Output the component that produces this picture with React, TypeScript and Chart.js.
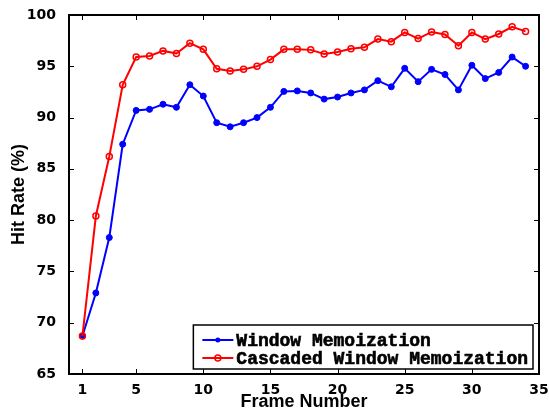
import React, { useEffect, useRef } from "react";
import { Chart, registerables } from "chart.js";

Chart.register(...registerables);

const frames = [1,2,3,4,5,6,7,8,9,10,11,12,13,14,15,16,17,18,19,20,21,22,23,24,25,26,27,28,29,30,31,32,33,34];
const windowMemo = [68.7,72.9,78.3,87.4,90.7,90.8,91.3,91.0,93.2,92.1,89.5,89.1,89.5,90.0,91.0,92.55,92.6,92.4,91.8,92.0,92.4,92.7,93.6,93.0,94.8,93.5,94.7,94.2,92.7,95.1,93.8,94.4,95.9,95.0];
const cascadedMemo = [68.7,80.4,86.2,93.2,95.9,96.0,96.5,96.25,97.25,96.65,94.75,94.55,94.7,95.0,95.65,96.65,96.65,96.6,96.2,96.4,96.7,96.85,97.65,97.4,98.3,97.7,98.35,98.1,97.0,98.3,97.65,98.15,98.85,98.4];
const seriesLabels = ["Window Memoization", "Cascaded Window Memoization"];
const xTickValues = [1, 5, 10, 15, 20, 25, 30, 35];
const xTitle = "Frame Number";
const yTitle = "Hit Rate (%)";

const TICK_FONT = { family: "'DejaVu Sans', sans-serif", size: 14, weight: "bold" as const };
const TITLE_FONT = { family: "'Liberation Sans', Arial, sans-serif", size: 18, weight: "bold" as const, lineHeight: 1 };

const framePlugin = {
  id: "frameTicks",
  beforeDatasetsDraw(chart: any) {
    const { ctx, chartArea: a, scales } = chart;
    ctx.save();
    ctx.strokeStyle = "#000";
    ctx.lineWidth = 1;
    const L = 5;
    ctx.beginPath();
    scales.x.ticks.forEach((t: any) => {
      const px = Math.round(scales.x.getPixelForValue(t.value)) + 0.5;
      ctx.moveTo(px, a.bottom);
      ctx.lineTo(px, a.bottom - L);
      ctx.moveTo(px, a.top);
      ctx.lineTo(px, a.top + L);
    });
    scales.y.ticks.forEach((t: any) => {
      const py = Math.round(scales.y.getPixelForValue(t.value)) + 0.5;
      ctx.moveTo(a.left, py);
      ctx.lineTo(a.left + L, py);
      ctx.moveTo(a.right, py);
      ctx.lineTo(a.right - L, py);
    });
    ctx.stroke();
    ctx.lineWidth = 2;
    ctx.strokeRect(a.left, a.top, a.right - a.left, a.bottom - a.top);
    ctx.restore();
  },
};

const legendPlugin = {
  id: "customLegend",
  afterDraw(chart: any) {
    const { ctx, chartArea: a } = chart;
    const ds = chart.data.datasets;
    ctx.save();
    ctx.font = "bold 18px 'Liberation Mono', 'Courier New', monospace";
    let maxW = 0;
    ds.forEach((d: any) => { maxW = Math.max(maxW, ctx.measureText(d.label).width); });
    const padL = 9, sample = 31, gap = 3, padR = 5;
    const w = padL + sample + gap + maxW + padR;
    const rowH = 18;
    const h = 15 + rowH + 11;
    const right = a.right - 6;
    const bottom = a.bottom - 5;
    const left = right - w;
    const top = bottom - h;
    ctx.fillStyle = "#fff";
    ctx.fillRect(left, top, w, h);
    ctx.strokeStyle = "#000";
    ctx.lineWidth = 1.5;
    ctx.strokeRect(left, top, w, h);
    ds.forEach((d: any, i: number) => {
      const cy = top + 15 + i * rowH;
      const x0 = left + padL;
      ctx.strokeStyle = d.borderColor;
      ctx.lineWidth = 2;
      ctx.beginPath();
      ctx.moveTo(x0, cy);
      ctx.lineTo(x0 + sample, cy);
      ctx.stroke();
      const mx = x0 + sample / 2;
      ctx.beginPath();
      if (d.pointBackgroundColor === "transparent") {
        ctx.arc(mx, cy, 3, 0, Math.PI * 2);
        ctx.lineWidth = 1.5;
        ctx.stroke();
      } else {
        ctx.arc(mx, cy, 2.5, 0, Math.PI * 2);
        ctx.fillStyle = d.borderColor;
        ctx.fill();
      }
      ctx.fillStyle = "#000";
      ctx.strokeStyle = "#000";
      ctx.lineWidth = 0.6;
      ctx.textBaseline = "middle";
      ctx.textAlign = "left";
      ctx.fillText(d.label, x0 + sample + gap, cy + 1);
      ctx.strokeText(d.label, x0 + sample + gap, cy + 1);
    });
    ctx.restore();
  },
};

export default function App() {
  const ref = useRef<HTMLCanvasElement>(null);
  useEffect(() => {
    if (!ref.current) return;
    const chart = new Chart(ref.current, {
      type: "line",
      data: {
        datasets: [
          {
            label: seriesLabels[0],
            data: frames.map((f, i) => ({ x: f, y: windowMemo[i] })),
            borderColor: "#0000ff",
            backgroundColor: "#0000ff",
            pointBackgroundColor: "#0000ff",
            pointBorderColor: "#0000ff",
            pointRadius: 3,
            pointBorderWidth: 1,
            borderWidth: 2,
            tension: 0,
            order: 1,
          },
          {
            label: seriesLabels[1],
            data: frames.map((f, i) => ({ x: f, y: cascadedMemo[i] })),
            borderColor: "#ff0000",
            backgroundColor: "#ff0000",
            pointBackgroundColor: "transparent",
            pointBorderColor: "#ff0000",
            pointRadius: 3,
            pointBorderWidth: 1.5,
            borderWidth: 2,
            tension: 0,
            order: 0,
          },
        ],
      },
      options: {
        responsive: false,
        animation: false,
        layout: { padding: { top: 15, right: 10, left: 0, bottom: 0 } },
        plugins: { legend: { display: false }, tooltip: { enabled: false }, title: { display: false } },
        scales: {
          x: {
            type: "linear",
            min: 0,
            max: 35,
            grid: { display: false },
            border: { display: false },
            afterFit: (s: any) => { s.height = 37; },
            afterBuildTicks: (s: any) => { s.ticks = xTickValues.map((v) => ({ value: v })); },
            ticks: { font: TICK_FONT, color: "#000", padding: 0, autoSkip: false, maxRotation: 0 },
            title: { display: true, text: xTitle, font: TITLE_FONT, color: "#000", padding: { top: -7, bottom: 0 } },
          },
          y: {
            min: 65,
            max: 100,
            grid: { display: false },
            border: { display: false },
            afterFit: (s: any) => { s.width = 69; },
            ticks: { stepSize: 5, font: TICK_FONT, color: "#000", padding: 5, autoSkip: false },
            title: { display: true, text: yTitle, font: TITLE_FONT, color: "#000", padding: { top: 10, bottom: 0 } },
          },
        },
      },
      plugins: [framePlugin, legendPlugin],
    });
    return () => chart.destroy();
  }, []);
  return (
    <div style={{ position: "fixed", left: 0, top: 0, width: 549, height: 411, background: "#fff" }}>
      <canvas ref={ref} width={549} height={411} />
    </div>
  );
}
